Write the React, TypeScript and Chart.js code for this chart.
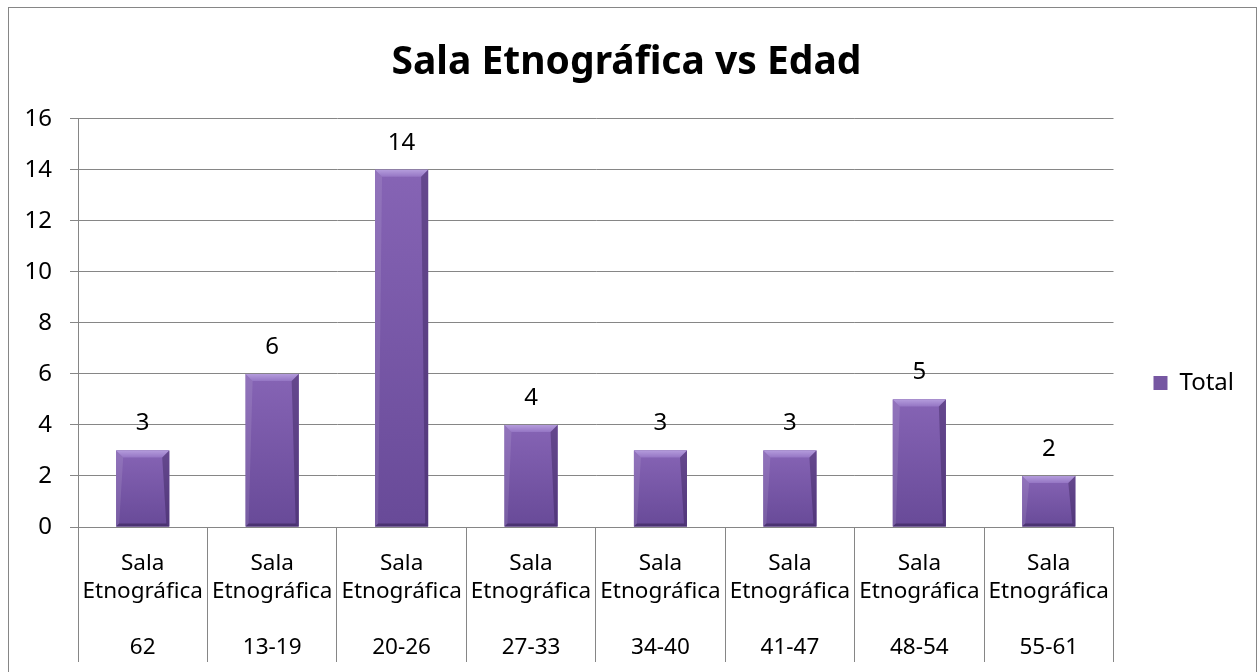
import React, { useEffect, useRef } from "react";
import { Chart, registerables } from "chart.js";

Chart.register(...registerables);

// ---- data ----
const chartTitle = "Sala Etnográfica vs Edad";
const groupLabel = ["Sala", "Etnográfica"];
const ageGroups = ["62", "13-19", "20-26", "27-33", "34-40", "41-47", "48-54", "55-61"];
const totals = [3, 6, 14, 4, 3, 3, 5, 2];
const seriesName = "Total";
const yTicks = { min: 0, max: 16, step: 2 };

const FONT = "'Noto Sans', 'DejaVu Sans', sans-serif";
const GRID = "#868686";

const bevelPlugin = {
  id: "bevel",
  afterDatasetsDraw(chart: any) {
    const ctx = chart.ctx;
    const meta = chart.getDatasetMeta(0);
    ctx.save();
    meta.data.forEach((el: any) => {
      const { x, y, base, width } = el.getProps(["x", "y", "base", "width"], true);
      const l = x - width / 2;
      const r = x + width / 2;
      const t = Math.min(y, base);
      const b = Math.max(y, base);
      const bv = Math.min(7, (b - t) / 3);
      const g = ctx.createLinearGradient(0, t, 0, b);
      g.addColorStop(0, "#8664B5");
      g.addColorStop(1, "#684A98");
      ctx.fillStyle = g;
      ctx.fillRect(l, t, width, b - t);
      const gt = ctx.createLinearGradient(0, t, 0, t + bv);
      gt.addColorStop(0, "#B49CDC");
      gt.addColorStop(1, "#9576C4");
      ctx.fillStyle = gt;
      ctx.beginPath();
      ctx.moveTo(l, t);
      ctx.lineTo(r, t);
      ctx.lineTo(r - bv, t + bv);
      ctx.lineTo(l + bv, t + bv);
      ctx.closePath();
      ctx.fill();
      ctx.fillStyle = "rgba(255,255,255,0.10)";
      ctx.beginPath();
      ctx.moveTo(l, t);
      ctx.lineTo(l + bv, t + bv);
      ctx.lineTo(l + 3, b - 3);
      ctx.lineTo(l, b);
      ctx.closePath();
      ctx.fill();
      ctx.fillStyle = "rgba(40,20,70,0.35)";
      ctx.beginPath();
      ctx.moveTo(r, t);
      ctx.lineTo(r - bv, t + bv);
      ctx.lineTo(r - 3, b - 3);
      ctx.lineTo(r, b);
      ctx.closePath();
      ctx.fill();
      ctx.fillStyle = "rgba(30,15,55,0.40)";
      ctx.beginPath();
      ctx.moveTo(l, b);
      ctx.lineTo(r, b);
      ctx.lineTo(r - 3, b - 3);
      ctx.lineTo(l + 3, b - 3);
      ctx.closePath();
      ctx.fill();
    });
    ctx.restore();
  },
};

const valueLabelPlugin = {
  id: "valueLabels",
  afterDatasetsDraw(chart: any) {
    const ctx = chart.ctx;
    const meta = chart.getDatasetMeta(0);
    const data = chart.data.datasets[0].data;
    ctx.save();
    ctx.font = `24px ${FONT}`;
    ctx.fillStyle = "#000";
    ctx.textAlign = "center";
    ctx.textBaseline = "middle";
    meta.data.forEach((el: any, i: number) => {
      const { x, y } = el.getProps(["x", "y"], true);
      ctx.fillText(String(data[i]), x, y - 27);
    });
    ctx.restore();
  },
};

export default function App() {
  const ref = useRef<HTMLCanvasElement | null>(null);

  useEffect(() => {
    if (!ref.current) return;
    const labels = ageGroups.map((a) => [...groupLabel, "", a]);
    const chart = new Chart(ref.current, {
      type: "bar",
      data: {
        labels,
        datasets: [
          {
            label: seriesName,
            data: totals,
            backgroundColor: "#7657A2",
            borderWidth: 0,
            barPercentage: 0.41,
            categoryPercentage: 1,
          },
        ],
      },
      options: {
        responsive: false,
        animation: false,
        devicePixelRatio: 1,
        layout: { padding: { top: 0, left: 0, bottom: 0, right: 12 } },
        plugins: {
          title: {
            display: true,
            text: chartTitle,
            color: "#000",
            font: { family: FONT, size: 39, weight: "bold", lineHeight: 1.2 },
            padding: { top: 31, bottom: 33 },
          },
          legend: {
            display: true,
            position: "right",
            align: "center",
            labels: {
              boxWidth: 14,
              boxHeight: 14,
              padding: 40,
              color: "#000",
              font: { family: FONT, size: 24 },
            },
          },
          tooltip: { enabled: false },
        },
        scales: {
          x: {
            type: "category",
            offset: true,
            afterFit(scale: any) {
              scale.height = 231;
            },
            grid: {
              offset: true,
              drawOnChartArea: false,
              drawTicks: true,
              tickLength: 135,
              tickColor: GRID,
              color: GRID,
            },
            border: { display: true, color: GRID, width: 1 },
            ticks: {
              autoSkip: false,
              maxRotation: 0,
              minRotation: 0,
              padding: -112,
              color: "#000",
              font: { family: FONT, size: 22.5, lineHeight: 1.24 },
            },
          },
          y: {
            min: yTicks.min,
            max: yTicks.max,
            afterFit(scale: any) {
              scale.width = 69;
            },
            grid: {
              color: GRID,
              tickColor: GRID,
              tickLength: 8,
              drawTicks: true,
            },
            border: { display: true, color: GRID, width: 1 },
            ticks: {
              stepSize: yTicks.step,
              padding: 18,
              color: "#000",
              font: { family: FONT, size: 24 },
            },
          },
        },
      },
      plugins: [bevelPlugin, valueLabelPlugin],
    });
    return () => chart.destroy();
  }, []);

  return (
    <div
      style={{
        position: "fixed",
        left: 8,
        top: 7,
        width: 1249,
        height: 752,
        boxSizing: "border-box",
        border: "1px solid #868686",
        background: "#fff",
      }}
    >
      <canvas ref={ref} width={1247} height={750} style={{ display: "block" }} />
    </div>
  );
}
